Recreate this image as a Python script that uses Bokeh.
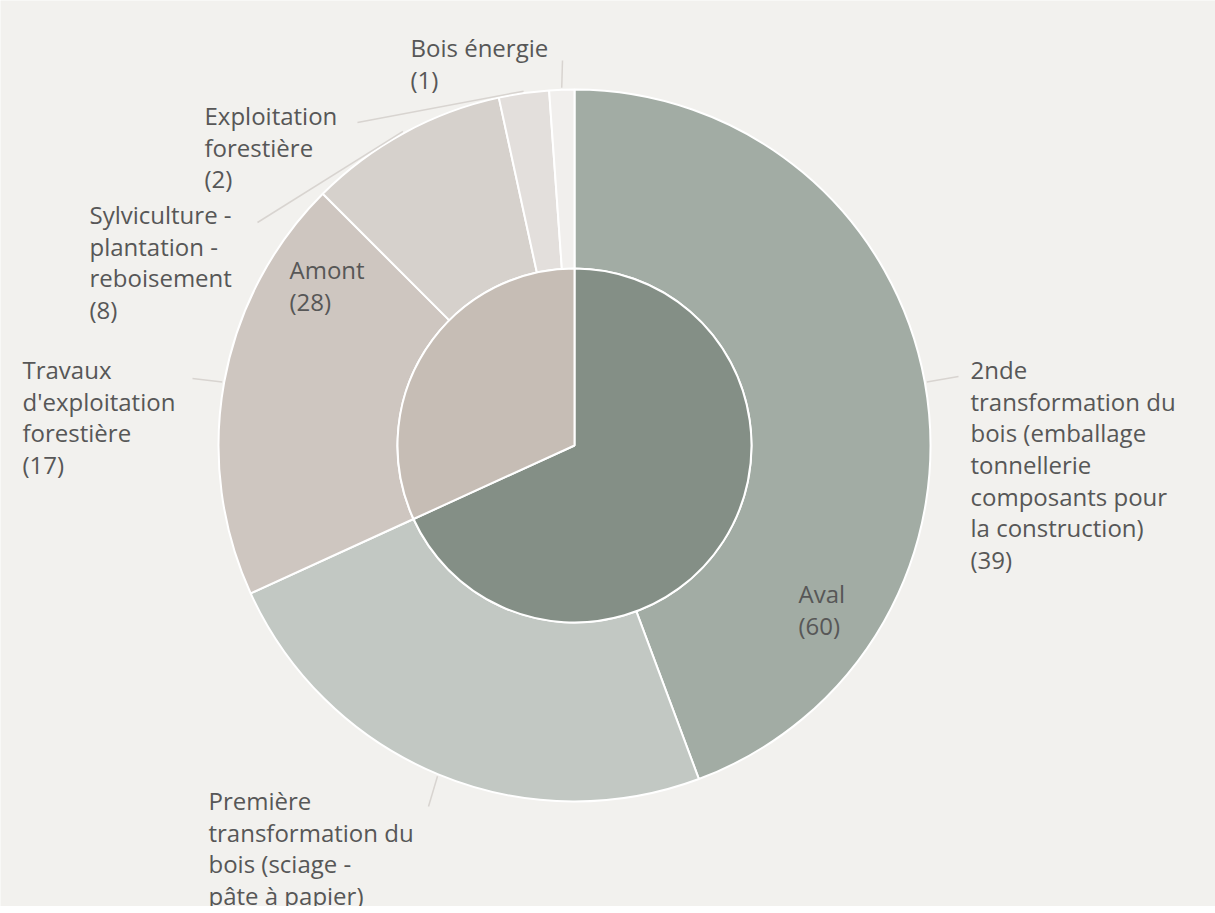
import math
from bokeh.plotting import figure
from bokeh.models import Range1d
from bokeh.core.properties import value
from bokeh.embed import file_html
from bokeh.resources import INLINE

# ---- data ----
inner_names = ["Aval", "Amont"]
inner_values = [60, 28]
inner_colors = ["#848f86", "#c6bdb5"]

outer_names = [
    "2nde\ntransformation du\nbois (emballage\ntonnellerie\ncomposants pour\nla construction)",
    "Première\ntransformation du\nbois (sciage -\npâte à papier)",
    "Travaux\nd'exploitation\nforestière",
    "Sylviculture -\nplantation -\nreboisement",
    "Exploitation\nforestière",
    "Bois énergie",
]
outer_values = [39, 21, 17, 8, 2, 1]
outer_colors = ["#a2aca4", "#c2c8c3", "#cec6c0", "#d6d1cc", "#e3dfdc", "#f1efed"]

# ---- layout (page pixel positions of label anchors) ----
CX, CY = 574, 445
R_IN, R_OUT = 177, 356

def dx(X):
    return X - CX

def dy(Y):
    return CY - Y

# label text position: left x, first-line centre y (page px)
outer_label_pos = [(970, 372), (208, 803), (22, 372), (89, 217), (204, 118), (410, 50)]
# connector end points (page px)
outer_line_end = [(958, 376), (428, 806), (192, 378), (257, 222), (357, 122), (562, 60)]
inner_label_pos = [(798, 596), (289, 272)]

total = sum(inner_values)
k = 2 * math.pi / total

def wedges(vals):
    starts, ends, mids = [], [], []
    cum = 0
    for v in vals:
        a0 = math.pi / 2 - cum * k
        cum += v
        a1 = math.pi / 2 - cum * k
        starts.append(a1)
        ends.append(a0)
        mids.append((a0 + a1) / 2)
    return starts, ends, mids

is_, ie_, im_ = wedges(inner_values)
os_, oe_, om_ = wedges(outer_values)

W, H = 1215, 906
p = figure(width=W, height=H, output_backend="svg", toolbar_location=None,
           x_range=Range1d(dx(0), dx(W)), y_range=Range1d(dy(H), dy(0)),
           min_border=0, outline_line_color=None,
           background_fill_color="#f2f1ee", border_fill_color="#f2f1ee")
p.axis.visible = False
p.grid.visible = False

p.annular_wedge(x=[0] * len(outer_values), y=[0] * len(outer_values),
                inner_radius=R_IN, outer_radius=R_OUT,
                start_angle=os_, end_angle=oe_, fill_color=outer_colors,
                line_color="white", line_width=2)
p.wedge(x=[0, 0], y=[0, 0], radius=R_IN, start_angle=is_, end_angle=ie_,
        fill_color=inner_colors, line_color="white", line_width=2)

# connector lines
x0 = [(R_OUT + 2) * math.cos(a) for a in om_]
y0 = [(R_OUT + 2) * math.sin(a) for a in om_]
x1 = [dx(X) for X, Y in outer_line_end]
y1 = [dy(Y) for X, Y in outer_line_end]
p.segment(x0=x0, y0=y0, x1=x1, y1=y1, line_color="#d8d4d0", line_width=1.5)

FS = 24
LH = 31.3 / (FS * 1.36)
half = 19.5

texts = [f"{n}\n({v})" for n, v in zip(outer_names, outer_values)] + \
        [f"{n}\n({v})" for n, v in zip(inner_names, inner_values)]
pos = outer_label_pos + inner_label_pos
p.text(x=[dx(X) for X, Y in pos], y=[dy(Y - half) for X, Y in pos], text=texts,
       text_font=value("Open Sans"), text_font_size=f"{FS}px", text_color="#575757",
       text_align="left", text_baseline="top", text_line_height=LH)

open("out.html", "w").write(file_html(p, INLINE))
